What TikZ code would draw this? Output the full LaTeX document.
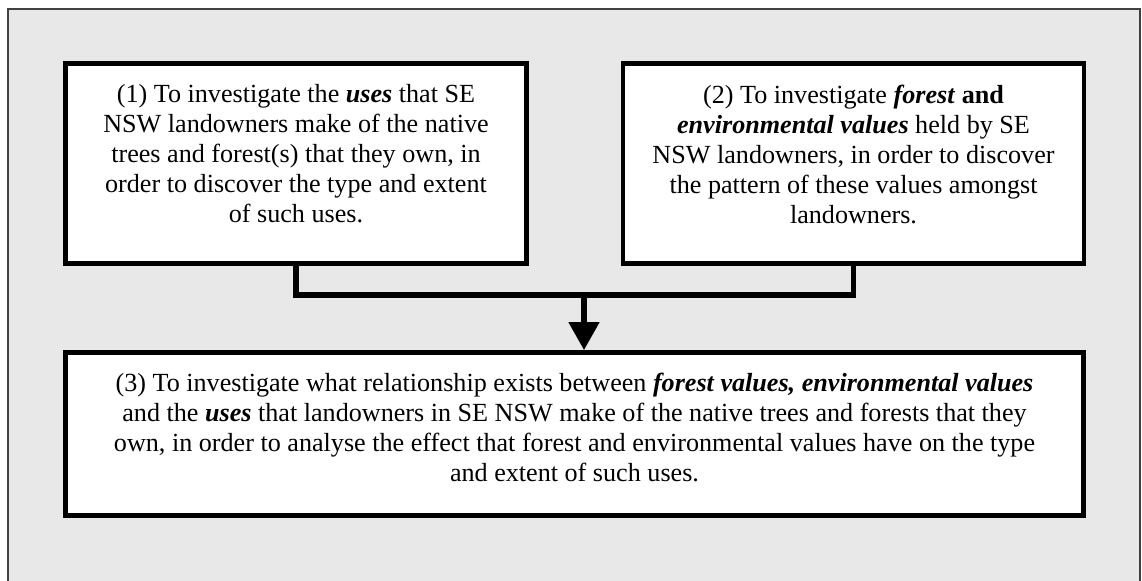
\documentclass[tikz,border=0pt]{standalone}
\usepackage{fontspec}
\setmainfont{Liberation Serif}
\usetikzlibrary{arrows.meta,positioning}

\begin{document}
\begin{tikzpicture}[x=0.75pt,y=-0.75pt,
		goalbox/.style={draw=black,fill=white,line width=3.5pt,inner sep=0pt},
		goaltext/.style={align=center,inner sep=0pt,font=\fontsize{19.6pt}{22.5pt}\selectfont},
		link/.style={line width=4pt},
		flow/.style={line width=3.8pt,-{Triangle[width=22.5pt,length=21pt]}}]
		%%%%% START %%%%%
		
		\useasboundingbox (0,0) rectangle (1142,581);
		\fill[black!9] (8,9) rectangle (1140,581);
		\draw[line width=0.8pt, color=black!75] (8,581) -- (8,9) -- (1140,9) -- (1140,581);
		
		% the three aims
		\node[goalbox, minimum width=345.9pt, minimum height=150.15pt] (uses) at (296,163.5) {};
		\node[goalbox, minimum width=345.9pt, minimum height=150.15pt] (values) at (853.5,163.5) {};
		\node[goalbox, minimum width=763.65pt, minimum height=122.4pt] (relation) at (574.5,434) {};
		
		\node[goaltext] (usestext) at (296,154) {(1) To investigate the \textbf{\textit{uses}} that SE\\
			NSW landowners make of the native\\
			trees and forest(s) that they own, in\\
			order to discover the type and extent\\
			of such uses.};
		\node[goaltext] (valuestext) at (853.5,154) {(2) To investigate \textbf{\textit{forest}} \textbf{and}\\
			\textbf{\textit{environmental values}} held by SE\\
			NSW landowners, in order to discover\\
			the pattern of these values amongst\\
			landowners.};
		\node[goaltext] (relationtext) at (574.5,427) {(3) To investigate what relationship exists between \textbf{\textit{forest values, environmental values}}\\
			and the \textbf{\textit{uses}} that landowners in SE NSW make of the native trees and forests that they\\
			own, in order to analyse the effect that forest and environmental values have on the type\\
			and extent of such uses.};
		
		% joining the first two aims
		\draw[link] (uses.south) -- ++(0,29) -| (values.south);
		\coordinate (join) at (584,295);
		\draw[flow] (join) -- (join |- relation.north);
		
		%%%%% END %%%%%
	\end{tikzpicture}
\end{document}
